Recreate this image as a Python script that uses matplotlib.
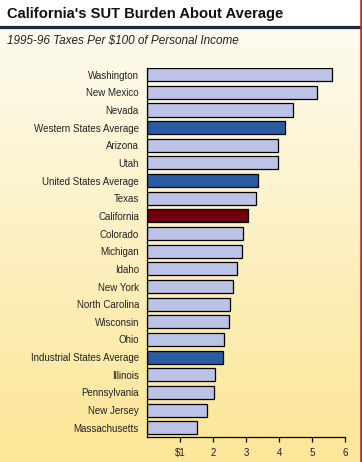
import numpy as np
import matplotlib.pyplot as plt
from matplotlib.lines import Line2D
from matplotlib.colors import to_rgb

plt.rcParams['font.family'] = ['Liberation Sans', 'DejaVu Sans']

## Data
states = ['Washington', 'New Mexico', 'Nevada', 'Western States Average', 'Arizona',
          'Utah', 'United States Average', 'Texas', 'California', 'Colorado',
          'Michigan', 'Idaho', 'New York', 'North Carolina', 'Wisconsin', 'Ohio',
          'Industrial States Average', 'Illinois', 'Pennsylvania', 'New Jersey',
          'Massachusetts']
taxes = [5.61, 5.15, 4.42, 4.18, 3.97, 3.97, 3.36, 3.30, 3.06, 2.91, 2.88, 2.73,
         2.61, 2.52, 2.48, 2.33, 2.30, 2.06, 2.03, 1.82, 1.52]
tick_vals = [1, 2, 3, 4, 5, 6]
tick_labels = ['$1', '2', '3', '4', '5', '6']

light = '#bcc3e6'
avg_blue = '#2a5ca3'
calif = '#6e0010'
colors = []
for s in states:
    if 'Average' in s:
        colors.append(avg_blue)
    elif s == 'California':
        colors.append(calif)
    else:
        colors.append(light)

W, H = 362, 462
fig = plt.figure(figsize=(W / 100, H / 100), dpi=100)

# background: white title band, then cream -> yellow gradient
bg = fig.add_axes([0, 0, 1, 1], zorder=-5)
bg.axis('off')
top_c = np.array(to_rgb('#fdfbef'))
bot_c = np.array(to_rgb('#fce79b'))
t = np.clip(np.linspace(0, 1, 200) * 1.08, 0, 1)[:, None]
grad = (top_c * (1 - t) + bot_c * t)[:, None, :]
bg.imshow(grad, extent=(0, W, H, 28), aspect='auto', interpolation='bilinear')
bg.imshow(np.ones((1, 1, 3)), extent=(0, W, 27, 0), aspect='auto')
bg.set_xlim(0, W)
bg.set_ylim(H, 0)

fig.add_artist(Line2D([0, 360 / W], [1 - 27.3 / H] * 2, color='#1f2a3a', lw=2.3,
                      transform=fig.transFigure))
fig.add_artist(Line2D([1 - 1.3 / W] * 2, [0, 1], color='#b3262a', lw=1.8,
                      transform=fig.transFigure))

fig.text(7 / W, 1 - 14 / H, "California's SUT Burden About Average", fontsize=10.6,
         fontweight='bold', va='center', ha='left', color='#111111')
fig.text(7 / W, 1 - 41 / H, '1995-96 Taxes Per $100 of Personal Income', fontsize=8.5,
         style='italic', va='center', ha='left', color='#222222')

ax = fig.add_axes([147.3 / W, 1 - 436.7 / H, (345 - 147.3) / W, (436.7 - 68) / H])
ax.patch.set_alpha(0)
y = np.arange(len(states))
ax.barh(y, taxes, height=0.74, color=colors, edgecolor='black', linewidth=0.9)
ax.set_ylim(20.51, -0.38)
ax.set_xlim(0, 6)
ax.set_yticks(y)
ax.set_yticklabels(states, fontsize=7, color='#222222')
ax.tick_params(axis='y', length=0, pad=6)
ax.set_xticks(tick_vals)
ax.set_xticklabels(tick_labels, fontsize=7, color='#222222')
ax.tick_params(axis='x', direction='out', length=3.5, width=0.9, pad=4.5)
for side in ['top', 'right']:
    ax.spines[side].set_visible(False)
ax.spines['left'].set_linewidth(0.9)
ax.spines['bottom'].set_linewidth(0.9)

fig.savefig('out.png', dpi=100)
